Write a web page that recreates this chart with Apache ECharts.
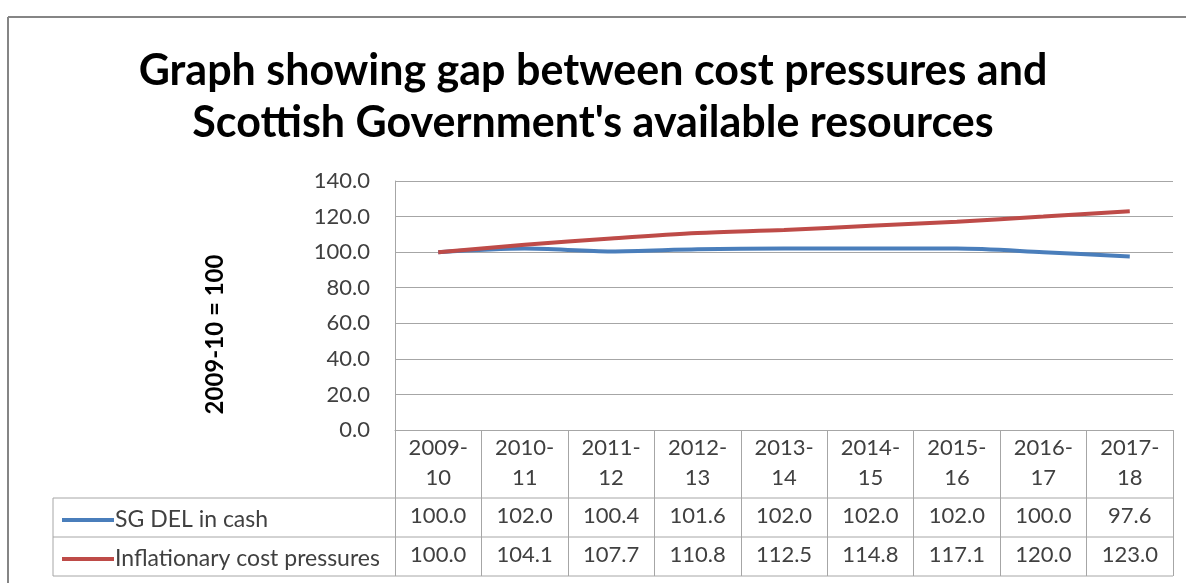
<!DOCTYPE html>
<html><head><meta charset="utf-8">
<script src="https://cdn.jsdelivr.net/npm/echarts@6/dist/echarts.min.js"></script>
<style>html,body{margin:0;padding:0;background:#fff}#c{width:1186px;height:583px}</style>
</head><body><div id="c"></div>
<script>
var categories = ['2009-10','2010-11','2011-12','2012-13','2013-14','2014-15','2015-16','2016-17','2017-18'];
var sgDel = [100.0,102.0,100.4,101.6,102.0,102.0,102.0,100.0,97.6];
var inflation = [100.0,104.1,107.7,110.8,112.5,114.8,117.1,120.0,123.0];
var seriesNames = ['SG DEL in cash','Inflationary cost pressures'];
var yTicks = [0,20,40,60,80,100,120,140];

var FONT = 'Lato, "Open Sans", sans-serif';
var TXT = '#404040';
var LINE = '#a6a6a6';
var chart = echarts.init(document.getElementById('c'));
var L = 53, R = 1173, gridL = 395, rows = [498, 537, 576];
var graphics = [
  {type:'line', shape:{x1:8,y1:17,x2:1186,y2:17}, style:{stroke:'#858585',lineWidth:2}, silent:true},
  {type:'line', shape:{x1:8,y1:17,x2:8,y2:583}, style:{stroke:'#858585',lineWidth:2}, silent:true},
  {type:'line', shape:{x1:L,y1:rows[0],x2:L,y2:rows[2]}, style:{stroke:LINE,lineWidth:1}, silent:true}
];
rows.forEach(function(y){
  graphics.push({type:'line', shape:{x1:L,y1:y,x2:R,y2:y}, style:{stroke:LINE,lineWidth:1}, silent:true});
});

chart.setOption({
  animation:false,
  backgroundColor:'#fff',
  title:{
    text:'Graph showing gap between cost pressures and\nScottish Government\'s available resources',
    left:'center', top:40,
    textStyle:{fontFamily:FONT, fontWeight:'bold', fontSize:43, color:'#000', lineHeight:52}
  },
  legend:{
    orient:'vertical', left:57, top:503, itemGap:15,
    itemWidth:52, itemHeight:4, icon:'rect',
    data:seriesNames,
    textStyle:{fontFamily:FONT, fontSize:23, color:TXT, lineHeight:24, padding:[0,0,0,-4]}
  },
  grid:{left:gridL, right:1186-R, top:181, bottom:583-430},
  xAxis:{
    type:'category', data:categories, boundaryGap:true,
    axisLine:{show:true, lineStyle:{color:LINE}},
    axisTick:{show:true, interval:0, length:146, lineStyle:{color:LINE}},
    axisLabel:{
      interval:0, margin:3,
      formatter:function(v, i){
        var p = v.split('-');
        return '{h|' + p[0] + '-}\n{h|' + p[1] + '}\n{a|' + sgDel[i].toFixed(1) + '}\n{b|' + inflation[i].toFixed(1) + '}';
      },
      rich:{
        h:{fontFamily:FONT, fontSize:22, color:TXT, lineHeight:30},
        a:{fontFamily:FONT, fontSize:22, color:TXT, lineHeight:46},
        b:{fontFamily:FONT, fontSize:22, color:TXT, lineHeight:32}
      }
    }
  },
  yAxis:{
    type:'value', min:yTicks[0], max:yTicks[yTicks.length-1], interval:20,
    name:'2009-10 = 100', nameLocation:'middle', nameGap:168, nameRotate:90,
    nameTextStyle:{fontFamily:FONT, fontWeight:'bold', fontSize:24, color:'#000', padding:[0,58,0,0]},
    axisLine:{show:true, lineStyle:{color:LINE}},
    axisTick:{show:false},
    splitLine:{show:true, lineStyle:{color:LINE}},
    axisLabel:{margin:25, fontFamily:FONT, fontSize:22, color:TXT, formatter:function(v){return v.toFixed(1);}}
  },
  series:[
    {name:seriesNames[0], type:'line', data:sgDel, smooth:0.3, showSymbol:false, symbol:'none',
     lineStyle:{color:'#4a7ebb', width:4}, itemStyle:{color:'#4a7ebb'}, z:2},
    {name:seriesNames[1], type:'line', data:inflation, smooth:0.3, showSymbol:false, symbol:'none',
     lineStyle:{color:'#be4b48', width:4}, itemStyle:{color:'#be4b48'}, z:3}
  ],
  graphic:graphics
});
</script></body></html>
